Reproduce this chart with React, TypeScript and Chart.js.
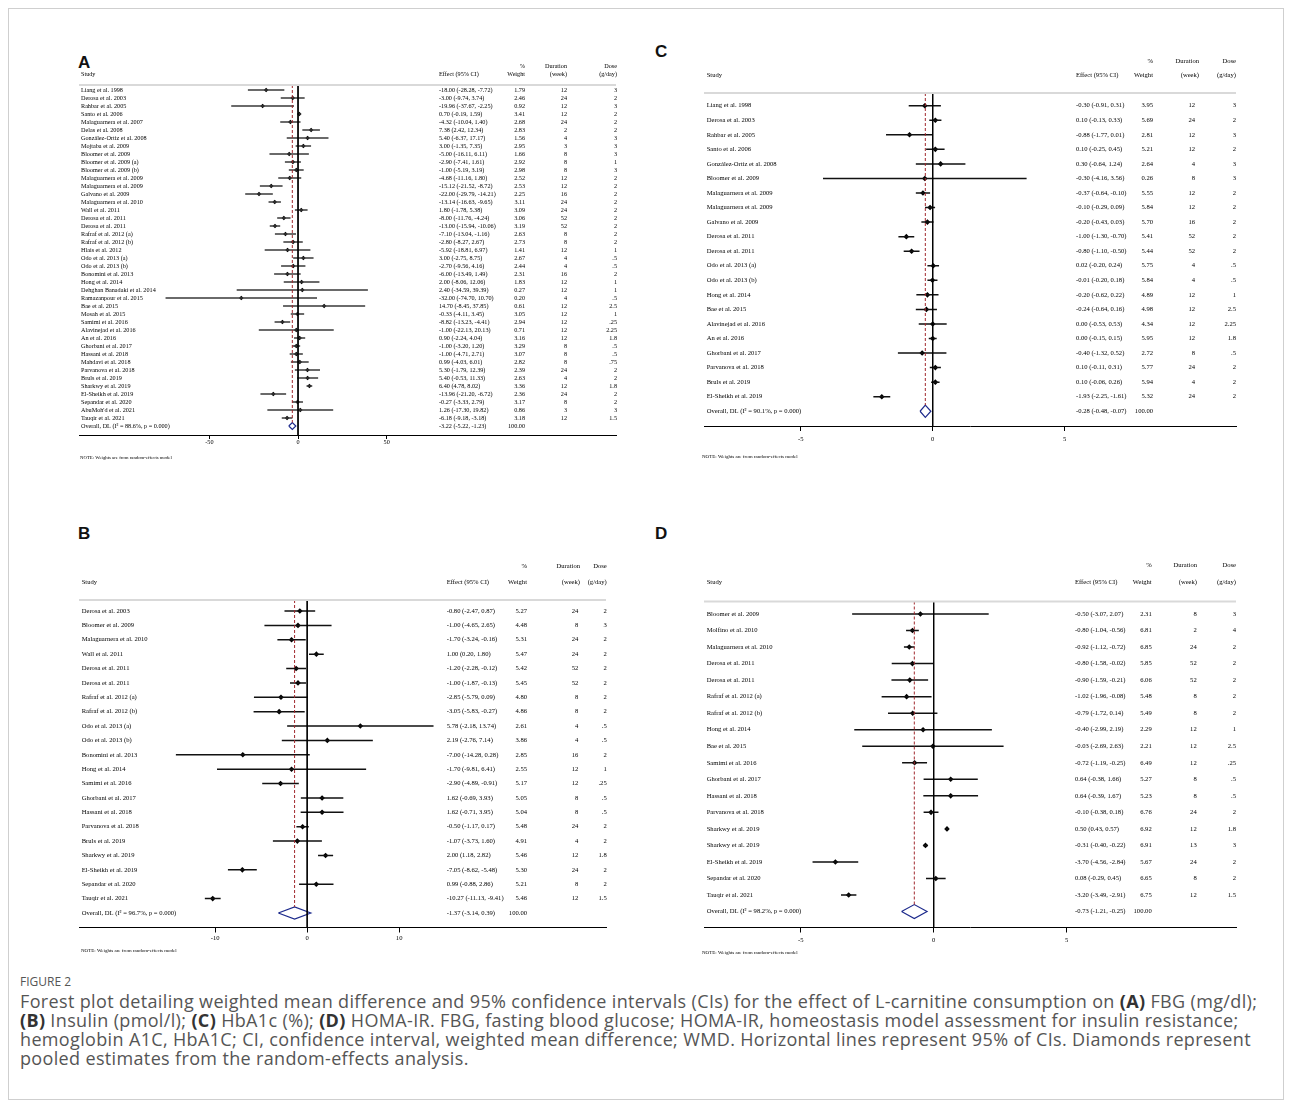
import React, { useEffect, useRef } from "react";
import { Chart, registerables } from "chart.js";
Chart.register(...registerables);

// ---------------- Panel A: FBG ----------------
const studiesA = ["Liang et al. 1998", "Derosa et al. 2003", "Rahbar et al. 2005", "Santo et al. 2006", "Malaguarnera et al. 2007", "Delas et al. 2008", "González-Ortiz et al. 2008", "Mojtaba et al. 2009", "Bloomer et al. 2009", "Bloomer et al. 2009 (a)", "Bloomer et al. 2009 (b)", "Malaguarnera et al. 2009", "Malaguarnera et al. 2009", "Galvano et al. 2009", "Malaguarnera et al. 2010", "Wall et al. 2011", "Derosa et al. 2011", "Derosa et al. 2011", "Rafraf et al. 2012 (a)", "Rafraf et al. 2012 (b)", "Hlais et al. 2012", "Odo et al. 2013 (a)", "Odo et al. 2013 (b)", "Bonomini et al. 2013", "Hong et al. 2014", "Dehghan Banadaki et al. 2014", "Ramazanpour et al. 2015", "Bae et al. 2015", "Mosah et al. 2015", "Samimi et al. 2016", "Alavinejad et al. 2016", "An et al. 2016", "Ghorbani et al. 2017", "Hassani et al. 2018", "Mahdavi et al. 2018", "Parvanova et al. 2018", "Bruls et al. 2019", "Sharkwy et al. 2019", "El-Sheikh et al. 2019", "Sepandar et al. 2020", "AbuMoh'd et al. 2021", "Tauqir et al. 2021"];
const estA = [-18.00, -3.00, -19.96, 0.70, -4.32, 7.38, 5.40, 3.00, -5.00, -2.90, -1.00, -4.68, -15.12, -22.00, -13.14, 1.80, -8.00, -13.00, -7.10, -2.80, -5.92, 3.00, -2.70, -6.00, 2.00, 2.40, -32.00, 14.70, -0.33, -8.82, -1.00, 0.90, -1.00, -1.00, 0.99, 5.30, 5.40, 6.40, -13.96, -0.27, 1.26, -6.18];
const loA = [-28.28, -9.74, -37.67, -0.19, -10.04, 2.42, -6.37, -1.35, -16.11, -7.41, -5.19, -11.16, -21.52, -29.79, -16.63, -1.78, -11.76, -15.94, -13.04, -8.27, -18.81, -2.75, -9.56, -13.49, -8.06, -34.59, -74.70, -8.45, -4.11, -13.23, -22.13, -2.24, -3.20, -4.71, -4.03, -1.79, -0.53, 4.78, -21.20, -3.33, -17.30, -9.18];
const hiA = [-7.72, 3.74, -2.25, 1.59, 1.40, 12.34, 17.17, 7.35, 6.11, 1.61, 3.19, 1.80, -8.72, -14.21, -9.65, 5.38, -4.24, -10.06, -1.16, 2.67, 6.97, 8.75, 4.16, 1.49, 12.06, 39.39, 10.70, 37.85, 3.45, -4.41, 20.13, 4.04, 1.20, 2.71, 6.01, 12.39, 11.33, 8.02, -6.72, 2.79, 19.82, -3.18];
const weightA = [1.79, 2.46, 0.92, 3.41, 2.68, 2.83, 1.56, 2.95, 1.66, 2.92, 2.98, 2.52, 2.53, 2.25, 3.11, 3.09, 3.06, 3.19, 2.63, 2.73, 1.41, 2.67, 2.44, 2.31, 1.83, 0.27, 0.20, 0.61, 3.05, 2.94, 0.71, 3.16, 3.29, 3.07, 2.82, 2.39, 2.63, 3.36, 2.36, 3.17, 0.86, 3.18];
const durationA = [12, 24, 12, 12, 24, 2, 4, 3, 8, 8, 8, 12, 12, 16, 24, 24, 52, 52, 8, 8, 12, 4, 4, 16, 12, 12, 4, 12, 12, 12, 12, 12, 8, 8, 8, 24, 4, 12, 24, 8, 3, 12];
const doseA = [3, 2, 3, 2, 2, 2, 3, 3, 3, 1, 3, 2, 2, 2, 2, 2, 2, 2, 2, 2, 1, 0.5, 0.5, 2, 1, 1, 0.5, 2.5, 1, 0.25, 2.25, 1.8, 0.5, 0.5, 0.75, 2, 2, 1.8, 2, 2, 3, 1.5];
const overallA = [-3.22, -5.22, -1.23];
const overallLabelA = "Overall, DL (I² = 88.6%, p = 0.000)";
const ticksA = [-50, 0, 50];

// ---------------- Panel B: Insulin ----------------
const studiesB = ["Derosa et al. 2003", "Bloomer et al. 2009", "Malaguarnera et al. 2010", "Wall et al. 2011", "Derosa et al. 2011", "Derosa et al. 2011", "Rafraf et al. 2012 (a)", "Rafraf et al. 2012 (b)", "Odo et al. 2013 (a)", "Odo et al. 2013 (b)", "Bonomini et al. 2013", "Hong et al. 2014", "Samimi et al. 2016", "Ghorbani et al. 2017", "Hassani et al. 2018", "Parvanova et al. 2018", "Bruls et al. 2019", "Sharkwy et al. 2019", "El-Sheikh et al. 2019", "Sepandar et al. 2020", "Tauqir et al. 2021"];
const estB = [-0.80, -1.00, -1.70, 1.00, -1.20, -1.00, -2.85, -3.05, 5.78, 2.19, -7.00, -1.70, -2.90, 1.62, 1.62, -0.50, -1.07, 2.00, -7.05, 0.99, -10.27];
const loB = [-2.47, -4.65, -3.24, 0.20, -2.28, -1.87, -5.79, -5.83, -2.18, -2.76, -14.28, -9.81, -4.89, -0.69, -0.71, -1.17, -3.73, 1.18, -8.62, -0.88, -11.13];
const hiB = [0.87, 2.65, -0.16, 1.80, -0.12, -0.13, 0.09, -0.27, 13.74, 7.14, 0.28, 6.41, -0.91, 3.93, 3.95, 0.17, 1.60, 2.82, -5.48, 2.86, -9.41];
const weightB = [5.27, 4.48, 5.31, 5.47, 5.42, 5.45, 4.80, 4.86, 2.61, 3.86, 2.85, 2.55, 5.17, 5.05, 5.04, 5.48, 4.91, 5.46, 5.30, 5.21, 5.46];
const durationB = [24, 8, 24, 24, 52, 52, 8, 8, 4, 4, 16, 12, 12, 8, 8, 24, 4, 12, 24, 8, 12];
const doseB = [2, 3, 2, 2, 2, 2, 2, 2, 0.5, 0.5, 2, 1, 0.25, 0.5, 0.5, 2, 2, 1.8, 2, 2, 1.5];
const overallB = [-1.37, -3.14, 0.39];
const overallLabelB = "Overall, DL (I² = 96.7%, p = 0.000)";
const ticksB = [-10, 0, 10];

// ---------------- Panel C: HbA1c ----------------
const studiesC = ["Liang et al. 1998", "Derosa et al. 2003", "Rahbar et al. 2005", "Santo et al. 2006", "González-Ortiz et al. 2008", "Bloomer et al. 2009", "Malaguarnera et al. 2009", "Malaguarnera et al. 2009", "Galvano et al. 2009", "Derosa et al. 2011", "Derosa et al. 2011", "Odo et al. 2013 (a)", "Odo et al. 2013 (b)", "Hong et al. 2014", "Bae et al. 2015", "Alavinejad et al. 2016", "An et al. 2016", "Ghorbani et al. 2017", "Parvanova et al. 2018", "Bruls et al. 2019", "El-Sheikh et al. 2019"];
const estC = [-0.30, 0.10, -0.88, 0.10, 0.30, -0.30, -0.37, -0.10, -0.20, -1.00, -0.80, 0.02, -0.01, -0.20, -0.24, 0.00, 0.00, -0.40, 0.10, 0.10, -1.93];
const loC = [-0.91, -0.13, -1.77, -0.25, -0.64, -4.16, -0.64, -0.29, -0.43, -1.30, -1.10, -0.20, -0.20, -0.62, -0.64, -0.53, -0.15, -1.32, -0.11, -0.06, -2.25];
const hiC = [0.31, 0.33, 0.01, 0.45, 1.24, 3.56, -0.10, 0.09, 0.03, -0.70, -0.50, 0.24, 0.18, 0.22, 0.16, 0.53, 0.15, 0.52, 0.31, 0.26, -1.61];
const weightC = [3.95, 5.69, 2.81, 5.21, 2.64, 0.26, 5.55, 5.84, 5.70, 5.41, 5.44, 5.75, 5.84, 4.89, 4.98, 4.34, 5.95, 2.72, 5.77, 5.94, 5.32];
const durationC = [12, 24, 12, 12, 4, 8, 12, 12, 16, 52, 52, 4, 4, 12, 12, 12, 12, 8, 24, 4, 24];
const doseC = [3, 2, 3, 2, 3, 3, 2, 2, 2, 2, 2, 0.5, 0.5, 1, 2.5, 2.25, 1.8, 0.5, 2, 2, 2];
const overallC = [-0.28, -0.48, -0.07];
const overallLabelC = "Overall, DL (I² = 90.1%, p = 0.000)";
const ticksC = [-5, 0, 5];

// ---------------- Panel D: HOMA-IR ----------------
const studiesD = ["Bloomer et al. 2009", "Molfino et al. 2010", "Malaguarnera et al. 2010", "Derosa et al. 2011", "Derosa et al. 2011", "Rafraf et al. 2012 (a)", "Rafraf et al. 2012 (b)", "Hong et al. 2014", "Bae et al. 2015", "Samimi et al. 2016", "Ghorbani et al. 2017", "Hassani et al. 2018", "Parvanova et al. 2018", "Sharkwy et al. 2019", "Sharkwy et al. 2019", "El-Sheikh et al. 2019", "Sepandar et al. 2020", "Tauqir et al. 2021"];
const estD = [-0.50, -0.80, -0.92, -0.80, -0.90, -1.02, -0.79, -0.40, -0.03, -0.72, 0.64, 0.64, -0.10, 0.50, -0.31, -3.70, 0.08, -3.20];
const loD = [-3.07, -1.04, -1.12, -1.58, -1.59, -1.96, -1.72, -2.99, -2.69, -1.19, -0.38, -0.39, -0.38, 0.43, -0.40, -4.56, -0.29, -3.49];
const hiD = [2.07, -0.56, -0.72, -0.02, -0.21, -0.08, 0.14, 2.19, 2.63, -0.25, 1.66, 1.67, 0.18, 0.57, -0.22, -2.84, 0.45, -2.91];
const weightD = [2.31, 6.81, 6.85, 5.85, 6.06, 5.48, 5.49, 2.29, 2.21, 6.49, 5.27, 5.23, 6.76, 6.92, 6.91, 5.67, 6.65, 6.75];
const durationD = [8, 2, 24, 52, 52, 8, 8, 12, 12, 12, 8, 8, 24, 12, 13, 24, 8, 12];
const doseD = [3, 4, 2, 2, 2, 2, 2, 1, 2.5, 0.25, 0.5, 0.5, 2, 1.8, 3, 2, 2, 1.5];
const overallD = [-0.73, -1.21, -0.25];
const overallLabelD = "Overall, DL (I² = 98.2%, p = 0.000)";
const ticksD = [-5, 0, 5];

const NOTE = "NOTE: Weights are from random-effects model";
const SERIF = '"Liberation Serif", "Times New Roman", serif';

// page offset of the framed container (body margin 8 + border 1)
const OX = 9;
const OY = 9;

// layout (page coordinates)
const layoutA = { cx: 75, cy: 55, cw: 545, ch: 410, headerY: 85, axisY: 435, row0: 90, rowGap: 8, zeroX: 297.3, ppu: 1.8, studyX: 81, effX: 439, wR: 525, dR: 567, dHR: 567, doseR: 617, h1: 66, h2: 74, font: 6.2, tickLen: 4, tickPad: 0, noteX: 80, noteY: 458, noteFont: 4.8, ciW: 1.5, ciColor: "#3a3a3a", ptR: 2.3 };
const layoutB = { cx: 75, cy: 552, cw: 535, ch: 408, headerY: 600, axisY: 927.5, row0: 611, rowGap: 14.38, zeroX: 306.65, ppu: 9.335, studyX: 81.7, effX: 446.7, wR: 527, dR: 578.3, dHR: 580, doseR: 606.7, h1: 566, h2: 582.7, font: 6.6, tickLen: 5, tickPad: 2, noteX: 81, noteY: 951, noteFont: 5, ciW: 1.5, ciColor: "#111", ptR: 2.8 };
const layoutC = { cx: 700, cy: 50, cw: 540, ch: 415, headerY: 93, axisY: 426, row0: 105.7, rowGap: 14.55, zeroX: 932.15, ppu: 26.77, studyX: 706.7, effX: 1076, wR: 1153, dR: 1195, dHR: 1199, doseR: 1236, h1: 61, h2: 75, font: 6.6, tickLen: 5, tickPad: 4.5, noteX: 702, noteY: 456.7, noteFont: 5, ciW: 1.5, ciColor: "#111", ptR: 2.8 };
const layoutD = { cx: 700, cy: 550, cw: 540, ch: 412, headerY: 601.5, axisY: 927.5, row0: 614, rowGap: 16.53, zeroX: 933.15, ppu: 26.97, studyX: 706.7, effX: 1075, wR: 1151.7, dR: 1196.7, dHR: 1197, doseR: 1236, h1: 565, h2: 582.7, font: 6.6, tickLen: 5, tickPad: 3.5, noteX: 702, noteY: 953, noteFont: 5, ciW: 1.5, ciColor: "#111", ptR: 2.8 };

const fmt2 = (v: number) => v.toFixed(2);
const fmtDose = (v: number) => {
  const s = String(v);
  return s.startsWith("0.") ? s.slice(1) : s;
};

function ForestPanel(props: any) {
  const { studies, est, lo, hi, weight, duration, dose, overall, overallLabel, ticks, L } = props;
  const ref = useRef<HTMLCanvasElement>(null);

  useEffect(() => {
    const n = studies.length;
    const xMin = (L.cx - L.zeroX) / L.ppu;
    const xMax = (L.cx + L.cw - L.zeroX) / L.ppu;
    const yMin = (L.headerY - L.row0) / L.rowGap;
    const yMax = (L.axisY - L.row0) / L.rowGap;
    const dh = 0.42;
    const [oe, ol, oh] = overall;

    const ci: any[] = [];
    studies.forEach((_: string, i: number) => {
      ci.push({ x: lo[i], y: i }, { x: hi[i], y: i }, { x: hi[i], y: null });
    });
    const pts = est.map((v: number, i: number) => ({ x: v, y: i }));
    const diamond = [
      { x: ol, y: n },
      { x: oe, y: n - dh },
      { x: oh, y: n },
      { x: oe, y: n + dh },
      { x: ol, y: n },
    ];
    const font = `${L.font}px ${SERIF}`;

    const textPlugin = {
      id: "forestText",
      afterDraw(chart: any) {
        const ctx = chart.ctx;
        const ys = chart.scales.y;
        const X = (x: number) => x - L.cx;
        const Y = (y: number) => y - L.cy;
        ctx.save();
        ctx.font = font;
        ctx.fillStyle = "#000";
        ctx.textBaseline = "middle";
        ctx.textAlign = "left";
        ctx.fillText("Study", X(L.studyX), Y(L.h2));
        ctx.fillText("Effect (95% CI)", X(L.effX), Y(L.h2));
        ctx.textAlign = "right";
        ctx.fillText("%", X(L.wR), Y(L.h1));
        ctx.fillText("Weight", X(L.wR), Y(L.h2));
        ctx.fillText("Duration", X(L.dHR), Y(L.h1));
        ctx.fillText("(week)", X(L.dHR), Y(L.h2));
        ctx.fillText("Dose", X(L.doseR), Y(L.h1));
        ctx.fillText("(g/day)", X(L.doseR), Y(L.h2));
        for (let i = 0; i < n; i++) {
          const y = ys.getPixelForValue(i);
          ctx.textAlign = "left";
          ctx.fillText(studies[i], X(L.studyX), y);
          ctx.fillText(`${fmt2(est[i])} (${fmt2(lo[i])}, ${fmt2(hi[i])})`, X(L.effX), y);
          ctx.textAlign = "right";
          ctx.fillText(fmt2(weight[i]), X(L.wR), y);
          ctx.fillText(String(duration[i]), X(L.dR), y);
          ctx.fillText(fmtDose(dose[i]), X(L.doseR), y);
        }
        const yo = ys.getPixelForValue(n);
        ctx.textAlign = "left";
        ctx.fillText(overallLabel, X(L.studyX), yo);
        ctx.fillText(`${fmt2(oe)} (${fmt2(ol)}, ${fmt2(oh)})`, X(L.effX), yo);
        ctx.textAlign = "right";
        ctx.fillText("100.00", X(L.wR), yo);
        ctx.textAlign = "left";
        ctx.font = `${L.noteFont}px ${SERIF}`;
        ctx.fillText(NOTE, X(L.noteX), Y(L.noteY));
        ctx.restore();
      },
    };

    const chart = new Chart(ref.current as HTMLCanvasElement, {
      type: "scatter",
      data: {
        datasets: [
          { data: [{ x: xMin, y: yMin }, { x: xMax, y: yMin }], showLine: true, borderColor: "#d9d9d9", borderWidth: 2, pointRadius: 0, clip: false } as any,
          { data: [{ x: 0, y: yMin }, { x: 0, y: yMax }], showLine: true, borderColor: "#000", borderWidth: 1, pointRadius: 0 },
          { data: [{ x: oe, y: yMin }, { x: oe, y: n - dh }], showLine: true, borderColor: "#a0282d", borderWidth: 1, borderDash: [3, 2], pointRadius: 0 },
          { data: ci, showLine: true, spanGaps: false, borderColor: L.ciColor, borderWidth: L.ciW, pointRadius: 0 },
          { data: pts, showLine: false, pointStyle: "rectRot", pointRadius: L.ptR, backgroundColor: "#000", borderColor: "#000", borderWidth: 0 },
          { data: diamond, showLine: true, borderColor: "#1d2a8c", borderWidth: 1.2, pointRadius: 0 },
        ],
      },
      options: {
        animation: false,
        responsive: false,
        maintainAspectRatio: false,
        events: [],
        layout: { padding: { top: L.headerY - L.cy, left: 0, right: 0, bottom: 0 } },
        plugins: { legend: { display: false }, tooltip: { enabled: false } },
        scales: {
          x: {
            type: "linear",
            min: xMin,
            max: xMax,
            afterBuildTicks: (s: any) => {
              s.ticks = ticks.map((v: number) => ({ value: v }));
            },
            afterFit: (s: any) => {
              s.height = L.ch - (L.axisY - L.cy);
            },
            grid: { drawOnChartArea: false, drawTicks: true, tickLength: L.tickLen, color: "#000", lineWidth: 1 },
            border: { display: true, color: "#000", width: 1 },
            ticks: {
              font: { family: SERIF, size: L.font },
              color: "#000",
              padding: L.tickPad,
              maxRotation: 0,
              autoSkip: false,
              callback: (v: any) => String(v),
            },
          },
          y: { type: "linear", reverse: true, min: yMin, max: yMax, display: false },
        },
      } as any,
      plugins: [textPlugin],
    });
    return () => chart.destroy();
  }, []);

  return (
    <canvas
      ref={ref}
      width={L.cw}
      height={L.ch}
      style={{ position: "absolute", left: L.cx - OX, top: L.cy - OY, width: L.cw, height: L.ch }}
    />
  );
}

const labelStyle = (x: number, y: number): React.CSSProperties => ({
  position: "absolute",
  left: x - OX,
  top: y - OY,
  fontFamily: '"Liberation Sans", Arial, sans-serif',
  fontWeight: 700,
  fontSize: 17,
  lineHeight: "17px",
  color: "#111",
});

const b = (t: string) => <b style={{ color: "#333", fontWeight: 700 }}>{t}</b>;

export default function App() {
  return (
    <div
      style={{
        position: "relative",
        width: 1276,
        height: 1092,
        border: "1px solid #cfcfcf",
        boxSizing: "border-box",
        background: "#fff",
      }}
    >
      <div style={labelStyle(78, 54)}>A</div>
      <div style={labelStyle(655, 43)}>C</div>
      <div style={labelStyle(78, 525)}>B</div>
      <div style={labelStyle(655, 525)}>D</div>

      <ForestPanel studies={studiesA} est={estA} lo={loA} hi={hiA} weight={weightA} duration={durationA} dose={doseA} overall={overallA} overallLabel={overallLabelA} ticks={ticksA} L={layoutA} />
      <ForestPanel studies={studiesB} est={estB} lo={loB} hi={hiB} weight={weightB} duration={durationB} dose={doseB} overall={overallB} overallLabel={overallLabelB} ticks={ticksB} L={layoutB} />
      <ForestPanel studies={studiesC} est={estC} lo={loC} hi={hiC} weight={weightC} duration={durationC} dose={doseC} overall={overallC} overallLabel={overallLabelC} ticks={ticksC} L={layoutC} />
      <ForestPanel studies={studiesD} est={estD} lo={loD} hi={hiD} weight={weightD} duration={durationD} dose={doseD} overall={overallD} overallLabel={overallLabelD} ticks={ticksD} L={layoutD} />

      <div
        style={{
          position: "absolute",
          left: 20 - OX,
          top: 975 - OY,
          fontFamily: '"Open Sans", "Noto Sans", sans-serif',
          fontSize: 12,
          lineHeight: "14px",
          color: "#555",
        }}
      >
        FIGURE 2
      </div>
      <div
        style={{
          position: "absolute",
          left: 20 - OX,
          top: 992 - OY,
          fontFamily: '"Open Sans", "Noto Sans", sans-serif',
          fontSize: 18,
          letterSpacing: "0.35px",
          lineHeight: "19px",
          color: "#555",
          whiteSpace: "nowrap",
        }}
      >
        Forest plot detailing weighted mean difference and 95% confidence intervals (CIs) for the effect of L-carnitine consumption on {b("(A)")} FBG (mg/dl);
        <br />
        {b("(B)")} Insulin (pmol/l); {b("(C)")} HbA1c (%); {b("(D)")} HOMA-IR. FBG, fasting blood glucose; HOMA-IR, homeostasis model assessment for insulin resistance;
        <br />
        hemoglobin A1C, HbA1C; CI, confidence interval, weighted mean difference; WMD. Horizontal lines represent 95% of CIs. Diamonds represent
        <br />
        pooled estimates from the random-effects analysis.
      </div>
    </div>
  );
}
